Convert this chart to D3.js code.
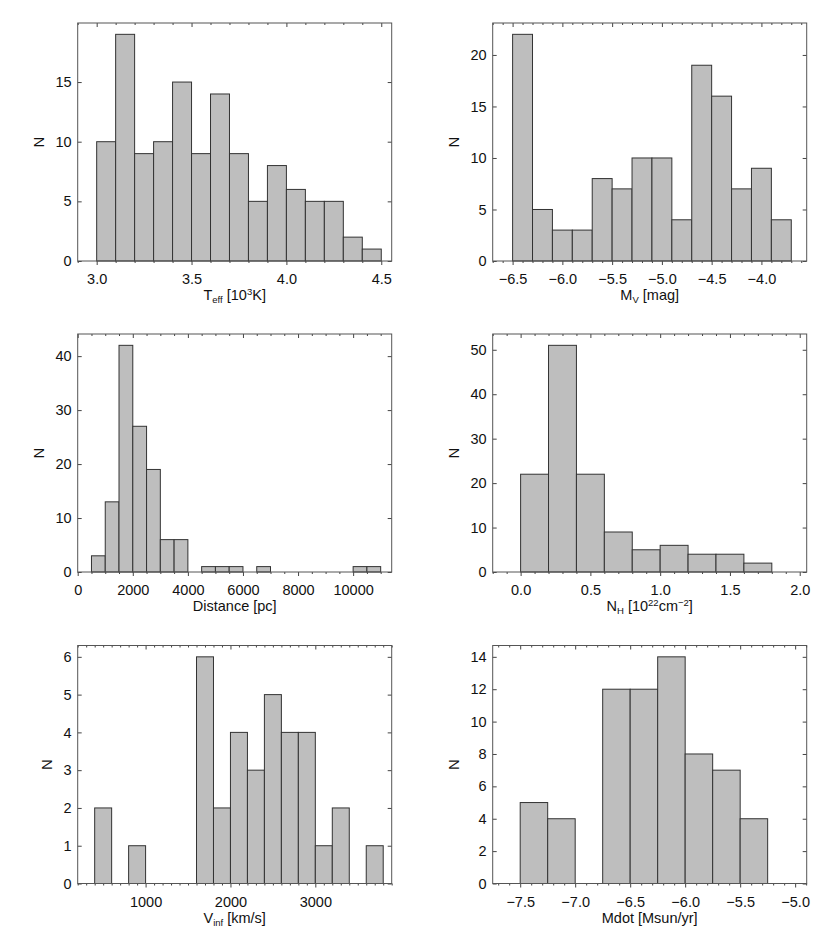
<html>
<head>
  <title>histograms</title>
  <meta charset="utf-8" />
<script src="https://d3js.org/d3.v7.min.js"></script>
</head>
<style>
  body { margin: 0; background: #fff; }
  svg { font-family: "Liberation Sans", Arial, Helvetica, sans-serif; }
</style>
<body>
<svg class="main" width="830" height="933"></svg>
<script>

// counts, one array per panel
var teffCounts = [10, 19, 9, 10, 15, 9, 14, 9, 5, 8, 6, 5, 5, 2, 1]
var mvCounts = [22, 5, 3, 3, 8, 7, 10, 10, 4, 19, 16, 7, 9, 4]
var distCounts = [3, 13, 42, 27, 19, 6, 6, 0, 1, 1, 1, 0, 1, 0, 0, 0, 0, 0, 0, 1, 1]
var nhCounts = [22, 51, 22, 9, 5, 6, 4, 4, 2]
var vinfCounts = [2, 0, 1, 0, 0, 0, 6, 2, 4, 3, 5, 4, 4, 1, 2, 0, 1]
var mdotCounts = [5, 4, 0, 12, 12, 14, 8, 7, 4]

// bin start / bin width
var teffBins = [3.0, 0.1]
var mvBins = [-6.5, 0.2]
var distBins = [500, 500]
var nhBins = [0.0, 0.2]
var vinfBins = [400, 200]
var mdotBins = [-7.5, 0.25]

// x ranges and tick steps [major, minor]
var teffRange = [2.9, 4.555], teffTicks = [0.5, 0.1]
var mvRange = [-6.7, -3.545], mvTicks = [0.5, 0.1]
var distRange = [0, 11400], distTicks = [2000, 500]
var nhRange = [-0.2, 2.05], nhTicks = [0.5, 0.1]
var vinfRange = [200, 3900], vinfTicks = [1000, 100]
var mdotRange = [-7.75, -4.895], mdotTicks = [0.5, 0.1]

var yTickSteps = [5, 5, 10, 10, 1, 2]

var teffTitle = [["T", ""], ["eff", "sub"], [" [10", ""], ["3", "sup"], ["K]", ""]]
var mvTitle = [["M", ""], ["V", "sub"], [" [mag]", ""]]
var distTitle = [["Distance [pc]", ""]]
var nhTitle = [["N", ""], ["H", "sub"], [" [10", ""], ["22", "sup"], ["cm", ""], ["\u22122", "sup"], ["]", ""]]
var vinfTitle = [["V", ""], ["inf", "sub"], [" [km/s]", ""]]
var mdotTitle = [["Mdot [Msun/yr]", ""]]

var panels = [
  {counts: teffCounts, bins: teffBins, range: teffRange, ticks: teffTicks, title: teffTitle, fmt: ".1f"},
  {counts: mvCounts, bins: mvBins, range: mvRange, ticks: mvTicks, title: mvTitle, fmt: ".1f"},
  {counts: distCounts, bins: distBins, range: distRange, ticks: distTicks, title: distTitle, fmt: "d"},
  {counts: nhCounts, bins: nhBins, range: nhRange, ticks: nhTicks, title: nhTitle, fmt: ".1f"},
  {counts: vinfCounts, bins: vinfBins, range: vinfRange, ticks: vinfTicks, title: vinfTitle, fmt: "d"},
  {counts: mdotCounts, bins: mdotBins, range: mdotRange, ticks: mdotTicks, title: mdotTitle, fmt: ".1f"}
]

var colX = [77.7, 492.7]
var rowY = [23, 334, 645.5]
var w = 314, h = 238

var svg = d3.select("svg.main")

function minus(s) { return s.replace("-", "\u2212") }

panels.forEach(function (p, i) {
  var x0 = colX[i % 2], y0 = rowY[Math.floor(i / 2)]
  var g = svg.append("g").attr("transform", "translate(" + x0 + "," + y0 + ")")

  var x = d3.scaleLinear().domain(p.range).range([0, w])
  var ymax = d3.max(p.counts) * 1.05
  var y = d3.scaleLinear().domain([0, ymax]).range([h, 0])

  var bars = p.counts.map(function (c, k) {
    return {lo: p.bins[0] + k * p.bins[1], hi: p.bins[0] + (k + 1) * p.bins[1], n: c}
  }).filter(function (d) { return d.n > 0 })

  g.selectAll("rect.bar")
    .data(bars)
    .enter()
    .append("rect")
    .attr("class", "bar")
    .attr("x", function (d) { return x(d.lo) })
    .attr("width", function (d) { return x(d.hi) - x(d.lo) })
    .attr("y", function (d) { return y(d.n) })
    .attr("height", function (d) { return h - y(d.n) })
    .style("fill", "#bebebe")
    .style("stroke", "#333")
    .style("stroke-width", 1)

  // tick values
  var eps = 1e-9
  var majors = [], minors = []
  var start = Math.ceil((p.range[0] - eps) / p.ticks[1])
  var end = Math.floor((p.range[1] + eps) / p.ticks[1])
  for (var k = start; k <= end; k++) {
    var v = +(k * p.ticks[1]).toFixed(6)
    var r = Math.abs(v / p.ticks[0] - Math.round(v / p.ticks[0]))
    if (r < 1e-6) majors.push(v); else minors.push(v)
  }
  var yvals = d3.range(0, ymax, yTickSteps[i])

  function styleAxis(sel) {
    sel.select(".domain").remove()
    sel.selectAll(".tick line").attr("stroke", "#444")
    sel.selectAll("text").style("font-size", "14.5px").style("font-family", null).attr("fill", "#111")
  }

  var f = d3.format(p.fmt)
  g.append("g").attr("transform", "translate(0," + h + ")")
    .call(d3.axisBottom(x).tickValues(majors).tickSize(4).tickPadding(9)
      .tickFormat(function (d) { return minus(f(d)) }))
    .call(styleAxis)
  g.append("g").attr("transform", "translate(0," + h + ")")
    .call(d3.axisBottom(x).tickValues(minors).tickSize(2).tickFormat(""))
    .call(styleAxis)
  g.append("g")
    .call(d3.axisBottom(x).tickValues(majors).tickSize(4).tickFormat(""))
    .call(styleAxis)
  g.append("g")
    .call(d3.axisBottom(x).tickValues(minors).tickSize(2).tickFormat(""))
    .call(styleAxis)
  var yAxis = g.append("g")
    .call(d3.axisLeft(y).tickValues(yvals).tickSize(-4).tickPadding(6).tickFormat(d3.format("d")))
    .call(styleAxis)
  g.append("g").attr("transform", "translate(" + w + ",0)")
    .call(d3.axisLeft(y).tickValues(yvals).tickSize(4).tickFormat(""))
    .call(styleAxis)

  g.append("rect")
    .attr("x", 0).attr("y", 0).attr("width", w).attr("height", h)
    .style("fill", "none").style("stroke", "#555").style("stroke-width", 1)

  // y label, placed left of the widest tick label
  var lw = d3.max(yAxis.selectAll("text").nodes(), function (n) { return n.getComputedTextLength() })
  g.append("text")
    .attr("transform", "translate(" + (-6 - lw - 12) + "," + (h / 2) + ") rotate(-90)")
    .attr("text-anchor", "middle")
    .style("font-size", "15px")
    .attr("fill", "#111")
    .text("N")

  // x title with sub/superscripts
  var t = g.append("text")
    .attr("x", w / 2).attr("y", h + 39)
    .attr("text-anchor", "middle")
    .style("font-size", "14.5px")
    .attr("fill", "#111")
  var shift = 0
  p.title.forEach(function (part) {
    var want = part[1] == "sub" ? 3 : part[1] == "sup" ? -5 : 0
    t.append("tspan")
      .attr("dy", want - shift)
      .style("font-size", part[1] ? "9.5px" : "14.5px")
      .text(part[0])
    shift = want
  })
})
</script>
</body>
</html>
